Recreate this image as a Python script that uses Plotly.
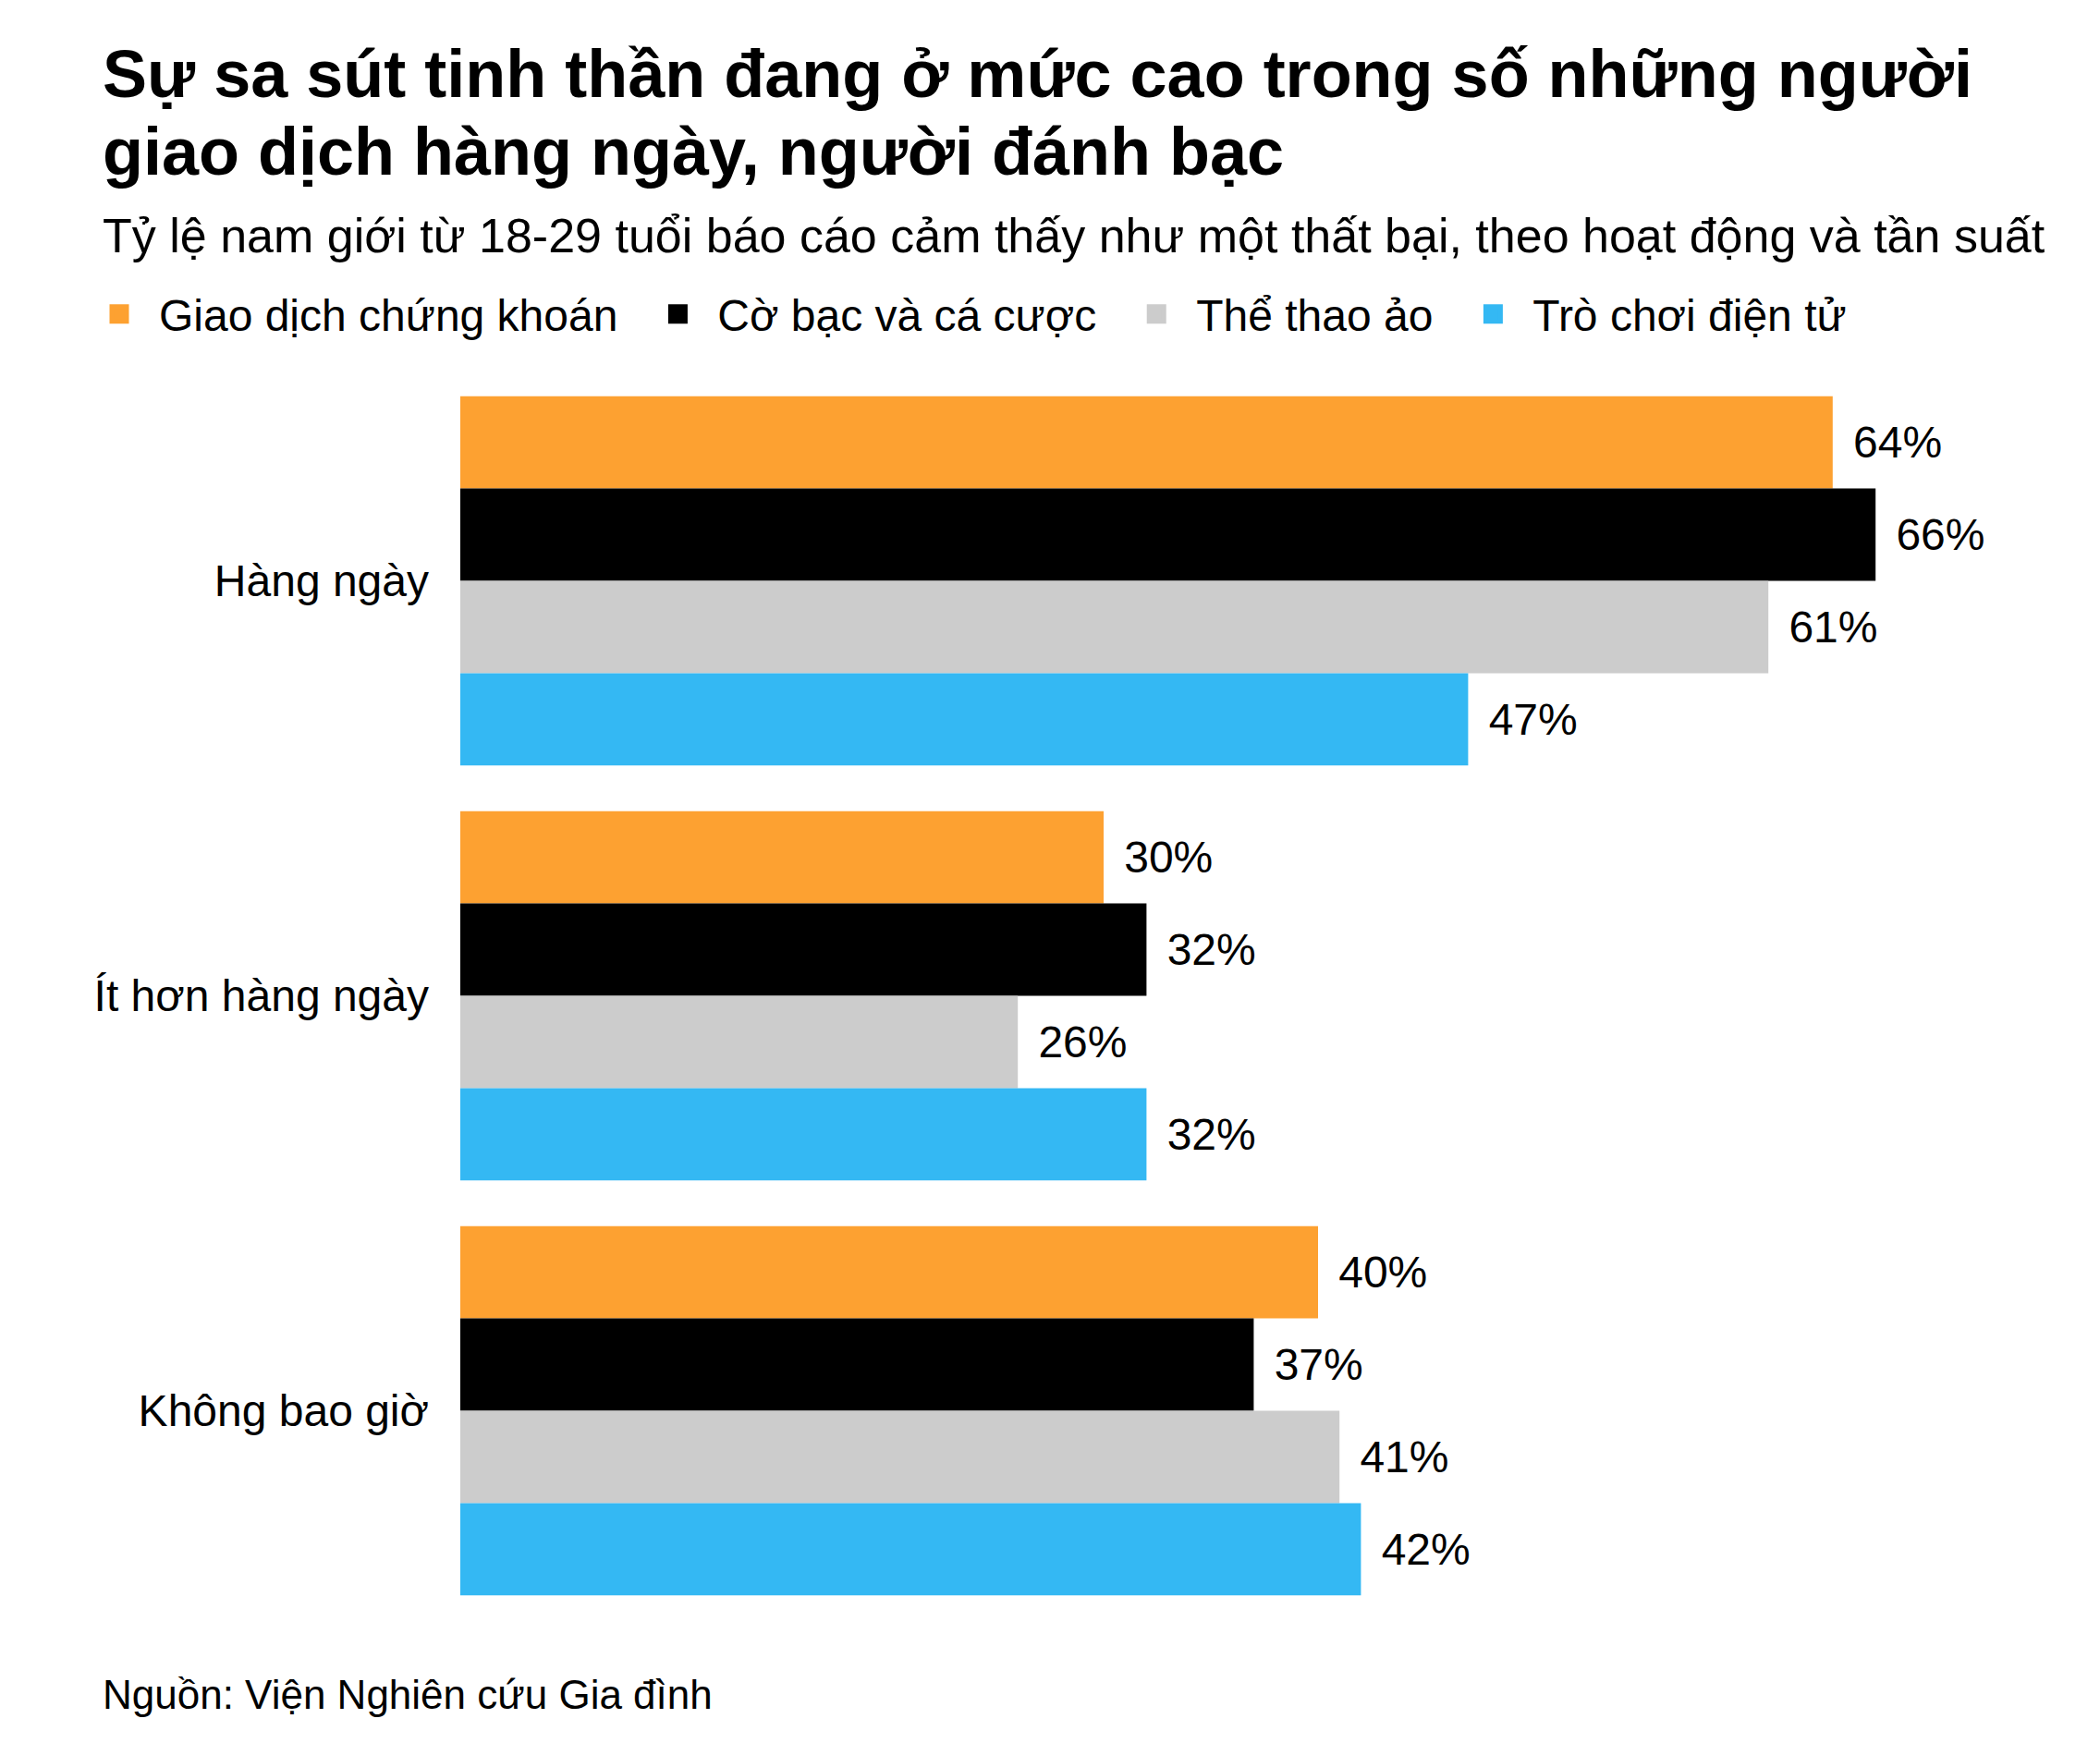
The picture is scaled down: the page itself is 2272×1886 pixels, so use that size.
import plotly.graph_objects as go

# Data
categories = ["Hàng ngày", "Ít hơn hàng ngày", "Không bao giờ"]
series_names = ["Giao dịch chứng khoán", "Cờ bạc và cá cược", "Thể thao ảo", "Trò chơi điện tử"]
stock_trading = [64, 30, 40]
gambling_betting = [66, 32, 37]
fantasy_sports = [61, 26, 41]
video_games = [47, 32, 42]
series_values = [stock_trading, gambling_betting, fantasy_sports, video_games]
colors = ["#FDA131", "#000000", "#CCCCCC", "#34B8F3"]

FONT = "Liberation Sans, Arial, sans-serif"
NB = "\u00a0"

W, H = 2272, 1886
ML, MR, MT, MB = 490, 42, 396, 143
plot_h = H - MT - MB
plot_w = W - ML - MR


def px_x(x):
    # figure pixel -> paper x
    return (x - ML) / plot_w


def px_y(y):
    # figure pixel (from top) -> paper y
    return (H - MB - y) / plot_h


fig = go.Figure()
for name, vals, col in zip(series_names, series_values, colors):
    fig.add_trace(go.Bar(
        y=categories,
        x=vals,
        name=name,
        orientation="h",
        marker=dict(color=col, line=dict(width=0)),
        text=[f"\u2009\u2009{v}%" for v in vals],
        textposition="outside",
        textfont=dict(family=FONT, size=48, color="#000000"),
        cliponaxis=False,
        showlegend=False,
    ))

# legend entries (bigger square swatches than the bar default)
for name, col in zip(series_names, colors):
    fig.add_trace(go.Scatter(
        x=[None], y=[None],
        mode="markers",
        name=NB + "\u2009" + name + NB * 3,
        marker=dict(symbol="square", size=16, color=col, line=dict(width=5, color=col)),
        showlegend=True,
        hoverinfo="skip",
    ))

fig.update_layout(
    width=W,
    height=H,
    margin=dict(l=ML, r=MR, t=MT, b=MB, autoexpand=False),
    paper_bgcolor="white",
    plot_bgcolor="white",
    barmode="group",
    bargap=0.11,
    bargroupgap=0,
    font=dict(family=FONT, color="#000000"),
    legend=dict(
        orientation="h",
        xref="paper",
        yref="paper",
        x=px_x(101),
        xanchor="left",
        y=px_y(332),
        yanchor="middle",
        font=dict(family=FONT, size=48, color="#000000"),
        traceorder="normal",
        itemsizing="trace",
        bgcolor="rgba(0,0,0,0)",
    ),
    xaxis=dict(
        range=[0, 75],
        visible=False,
        showgrid=False,
        zeroline=False,
    ),
    yaxis=dict(
        autorange="reversed",
        showgrid=False,
        zeroline=False,
        showline=False,
        ticks="",
        ticklabelstandoff=33,
        tickfont=dict(family=FONT, size=48, color="#000000"),
    ),
    annotations=[
        dict(
            text="<b>Sự sa sút tinh thần đang ở mức cao trong số những người</b>",
            xref="paper", yref="paper",
            x=px_x(101), y=px_y(72),
            xanchor="left", yanchor="middle",
            showarrow=False,
            font=dict(family=FONT, size=72, color="#000000"),
        ),
        dict(
            text="<b>giao dịch hàng ngày, người đánh bạc</b>",
            xref="paper", yref="paper",
            x=px_x(101), y=px_y(156),
            xanchor="left", yanchor="middle",
            showarrow=False,
            font=dict(family=FONT, size=72, color="#000000"),
        ),
        dict(
            text="Tỷ lệ nam giới từ 18-29 tuổi báo cáo cảm thấy như một thất bại, theo hoạt động và tần suất",
            xref="paper", yref="paper",
            x=px_x(101), y=px_y(247),
            xanchor="left", yanchor="middle",
            showarrow=False,
            font=dict(family=FONT, size=52, color="#000000"),
        ),
        dict(
            text="Nguồn: Viện Nghiên cứu Gia đình",
            xref="paper", yref="paper",
            x=px_x(101), y=px_y(1825),
            xanchor="left", yanchor="middle",
            showarrow=False,
            font=dict(family=FONT, size=44, color="#000000"),
        ),
    ],
)

fig.write_html("out.html")
